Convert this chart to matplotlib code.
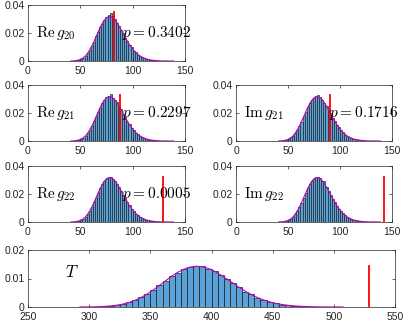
import numpy as np
import matplotlib
matplotlib.use("Agg")
import matplotlib.pyplot as plt

plt.rcParams['font.family'] = ['Liberation Sans', 'DejaVu Sans']
plt.rcParams['mathtext.fontset'] = 'cm'

# --- datos (alturas en unidades de 1e-4) ---
bin_left = list(range(40, 140, 2))          # bins de ancho 2, 40..140
pdf_small = [0.4, 1, 2.3, 4.5, 8.4, 14.5, 24.3, 37.8, 56.4, 80, 107, 139, 173, 207, 240, 269, 292, 309, 317, 317,
             309, 294, 274, 249, 223, 195, 168, 142, 117, 96, 77, 61, 47, 36, 28, 21, 15, 11, 8, 6,
             4, 3, 2, 1, 1, 1, 0.5, 0.3, 0.2, 0.1]
hist_re20 = [0, 1, 2, 4, 9, 14, 25, 37, 58, 78, 109, 137, 176, 204, 243, 266, 295, 313, 330, 340,
             318, 300, 270, 252, 220, 198, 165, 145, 115, 98, 75, 62, 46, 37, 27, 22, 14, 11, 8, 6,
             4, 3, 2, 1, 1, 1, 0, 0, 0, 0]
hist_re21 = [0, 1, 3, 5, 8, 15, 23, 39, 55, 82, 105, 141, 171, 210, 238, 272, 290, 312, 322, 335,
             305, 296, 276, 245, 226, 192, 170, 139, 119, 94, 79, 59, 48, 35, 29, 20, 16, 10, 8, 5,
             4, 2, 2, 1, 1, 0, 1, 0, 0, 0]
hist_im21 = [0, 1, 2, 4, 9, 14, 25, 38, 57, 79, 108, 138, 175, 205, 242, 268, 294, 310, 320, 332,
             312, 292, 272, 251, 221, 197, 166, 144, 116, 97, 76, 62, 46, 37, 27, 21, 15, 11, 8, 6,
             4, 3, 2, 1, 1, 1, 0, 0, 0, 0]
hist_re22 = [0, 1, 2, 5, 8, 15, 24, 37, 56, 81, 106, 140, 172, 208, 240, 270, 291, 308, 318, 321,
             310, 293, 275, 248, 224, 194, 169, 141, 118, 95, 78, 60, 47, 36, 28, 21, 15, 11, 8, 6,
             4, 3, 2, 1, 1, 1, 0, 0, 0, 0]
hist_im22 = [0, 1, 2, 4, 9, 14, 24, 38, 57, 80, 107, 139, 174, 206, 241, 268, 293, 309, 318, 320,
             311, 295, 290, 250, 222, 196, 167, 143, 117, 96, 77, 61, 47, 36, 28, 21, 15, 11, 8, 6,
             4, 3, 2, 1, 1, 1, 0, 0, 0, 0]

# T: bins de ancho 5, 290..510 (alturas en 1e-5)
bin_left_T = list(range(290, 510, 5))
pdf_T = [1, 3, 6, 11, 21, 37, 63, 101, 158, 236, 335, 458, 603, 760, 923, 1080, 1220, 1325, 1400, 1430,
         1410, 1350, 1253, 1125, 986, 840, 693, 555, 436, 333, 248, 180, 128, 88, 60, 40, 25, 16, 10, 6,
         4, 2, 1, 1]
hist_T = [1, 2, 7, 10, 23, 35, 66, 98, 165, 230, 345, 470, 590, 775, 910, 1095, 1210, 1340, 1420, 1440,
          1425, 1330, 1265, 1110, 995, 830, 705, 540, 445, 325, 255, 175, 130, 85, 62, 38, 26, 15, 10, 6,
          3, 2, 1, 1]

etiquetas = [r'$\mathrm{Re}\,g_{20}$', r'$\mathrm{Re}\,g_{21}$', r'$\mathrm{Im}\,g_{21}$',
             r'$\mathrm{Re}\,g_{22}$', r'$\mathrm{Im}\,g_{22}$']
p_valores = ['0.3402', '0.2297', '0.1716', '0.0005', None]
obs_x = [82.5, 87.5, 90.5, 129, 142]
obs_h = [0.0348, 0.0332, 0.0332, 0.0318, 0.0322]
obs_T = 528.5
obs_T_h = 0.0144

COLOR_BARRA = '#5aa3d8'
GRIS = '#262626'

def estilo(ax):
    for s in ax.spines.values():
        s.set_linewidth(0.5)
        s.set_color(GRIS)
    ax.tick_params(direction='in', length=2.5, width=0.5, labelsize=7.5, colors=GRIS,
                   top=True, right=True, pad=2.5)
    ax.tick_params(axis='x', pad=3.6)

def panel(ax, hist, etiqueta, p, x_obs, h_obs):
    alturas = np.array(hist) * 1e-4
    ax.bar(bin_left, alturas, width=2, align='edge', color=COLOR_BARRA,
           edgecolor='#1a1a1a', linewidth=0.45)
    centros = np.array(bin_left) + 1
    ax.plot(centros, np.array(pdf_small) * 1e-4, color='m', lw=0.8)
    ax.plot([x_obs, x_obs], [0, h_obs], color='r', lw=1.3)
    ax.set_xlim(0, 150)
    ax.set_ylim(0, 0.04)
    ax.set_xticks([0, 50, 100, 150])
    ax.set_yticks([0, 0.02, 0.04])
    ax.set_yticklabels(['0', '0.02', '0.04'])
    ax.text(8, 0.02, etiqueta, fontsize=11, va='center', color='k')
    if p is not None:
        ax.text(89.5, 0.02, r'$p = %s$' % p, fontsize=11, va='center', color='k', clip_on=False)
    estilo(ax)

fig = plt.figure(figsize=(4.05, 3.24), dpi=100)

w_l, w_r = 157 / 405, 156 / 405
h = 56 / 324
x_l, x_r = 28 / 405, 236 / 405
filas = [1 - 61 / 324, 1 - 141 / 324, 1 - 222 / 324]

posiciones = [(x_l, filas[0], w_l), (x_l, filas[1], w_l), (x_r, filas[1], w_r),
              (x_l, filas[2], w_l), (x_r, filas[2], w_r)]
datos = [hist_re20, hist_re21, hist_im21, hist_re22, hist_im22]

for (x0, y0, w), hst, et, p, xo, ho in zip(posiciones, datos, etiquetas, p_valores, obs_x, obs_h):
    ax = fig.add_axes([x0, y0, w, h])
    panel(ax, hst, et, p, xo, ho)

# panel T
axT = fig.add_axes([28 / 405, 1 - 307 / 324, 367 / 405, 57 / 324])
axT.bar(bin_left_T, np.array(hist_T) * 1e-5, width=5, align='edge', color=COLOR_BARRA,
        edgecolor='#1a1a1a', linewidth=0.5)
axT.plot(np.array(bin_left_T) + 2.5, np.array(pdf_T) * 1e-5, color='m', lw=0.8)
axT.plot([obs_T, obs_T], [0, obs_T_h], color='r', lw=1.3)
axT.set_xlim(250, 550)
axT.set_ylim(0, 0.02)
axT.set_xticks(range(250, 551, 50))
axT.set_yticks([0, 0.01, 0.02])
axT.set_yticklabels(['0', '0.01', '0.02'])
axT.text(280, 0.0122, r'$T$', fontsize=12, va='center', color='k')
estilo(axT)

fig.savefig('out.png', dpi=100)
